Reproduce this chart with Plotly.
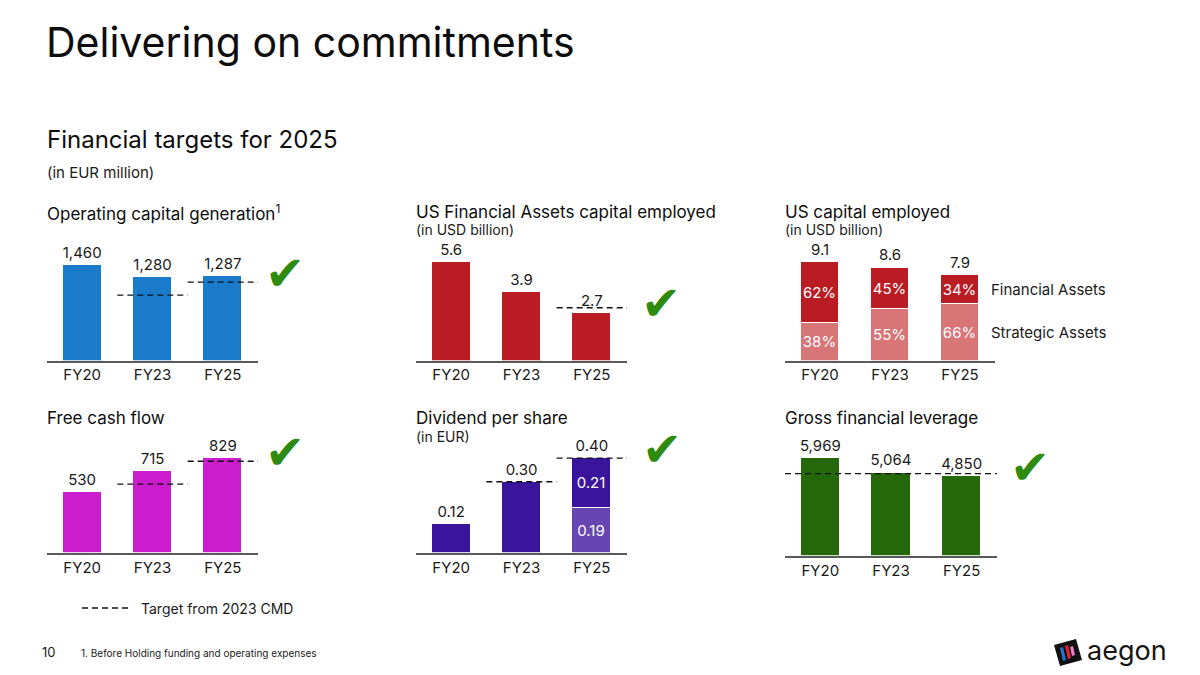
import plotly.graph_objects as go

W, H = 1200, 675
FONT = "Inter"
INK = "#1a1a1a"

# ---------- data ----------
years = ["FY20", "FY23", "FY25"]

ocg = [1460, 1280, 1287]              # operating capital generation, EUR m
ocg_target = [None, 1000, 1200]

fa_capital = [5.6, 3.9, 2.7]          # US Financial Assets capital employed, USD bn
fa_target = [None, None, 3.0]

us_capital = [9.1, 8.6, 7.9]          # US capital employed, USD bn
fa_share = [62, 45, 34]               # % Financial Assets
sa_share = [38, 55, 66]               # % Strategic Assets

fcf = [530, 715, 829]                 # free cash flow, EUR m
fcf_target = [None, 600, 800]

dps = [0.12, 0.30, 0.40]              # dividend per share, EUR
dps_interim = [0.19]                  # FY25 split
dps_final = [0.21]
dps_target = [None, 0.30, 0.40]

gfl = [5969, 5064, 4850]              # gross financial leverage, EUR m
gfl_target = 5000

# ---------- colours ----------
BLUE = "#1b7bcb"
RED = "#b91c23"
PINK_RED = "#d77577"
MAGENTA = "#cb1dcd"
PURPLE = "#3a149b"
PURPLE_LT = "#6746b1"
GREEN = "#256809"
CHECK = "#2f8a10"


def px_x(p):
    return p / W


def px_y(p):
    return 1 - p / H


# panel boxes in pixels: (left, right, top, baseline), y max
panels = [
    (47, 258, 245, 360.5, 1768),
    (416, 627, 245, 360.5, 6.57),
    (785, 995, 245, 360.5, 10.69),
    (47, 258, 440, 552.7, 986),
    (416, 627, 440, 552.7, 0.4765),
    (785, 997, 440, 555.7, 7055),
]

fig = go.Figure()
layout_axes = {}
for i, (l, r, t, b, ymax) in enumerate(panels, start=1):
    sfx = "" if i == 1 else str(i)
    layout_axes["xaxis" + sfx] = dict(
        domain=[px_x(l), px_x(r)], range=[-0.5, 2.5], anchor="y" + sfx,
        tickvals=[0, 1, 2], ticktext=years, ticks="", showgrid=False,
        zeroline=False, showline=True, linecolor="#5a5a5a", linewidth=1.6,
        tickfont=dict(family=FONT, size=15, color=INK), fixedrange=True,
    )
    layout_axes["yaxis" + sfx] = dict(
        domain=[px_y(b), px_y(t)], range=[0, ymax], anchor="x" + sfx,
        visible=False, fixedrange=True,
    )

idx = [0, 1, 2]
BW = 0.555
lab_font = dict(family=FONT, size=15, color=INK)
in_font = dict(family=FONT, size=15, color="white")


def ax(i):
    return ("x", "y") if i == 1 else ("x%d" % i, "y%d" % i)


def bars(i, vals, color, text=None, xs=idx):
    xa, ya = ax(i)
    fig.add_trace(go.Bar(
        x=xs, y=vals, width=BW, marker=dict(color=color, line=dict(color="white", width=1)),
        text=text, textposition="inside" if text else "none",
        insidetextanchor="middle", textangle=0, constraintext="none",
        textfont=in_font, xaxis=xa, yaxis=ya, showlegend=False, hoverinfo="skip",
    ))


def totals(i, vals, fmt):
    xa, ya = ax(i)
    fig.add_trace(go.Scatter(
        x=idx, y=vals, mode="markers+text", text=[fmt.format(v) for v in vals],
        marker=dict(size=4, opacity=0), textposition="top center",
        textfont=lab_font, cliponaxis=False,
        xaxis=xa, yaxis=ya, showlegend=False, hoverinfo="skip",
    ))


def targets(i, vals, full=False):
    xa, ya = ax(i)
    if full:
        segs = [([-0.5, 2.5], vals)]
    else:
        segs = [([k - 0.5, k + 0.5], v) for k, v in enumerate(vals) if v is not None]
    for xs, v in segs:
        fig.add_trace(go.Scatter(
            x=xs, y=[v, v], mode="lines",
            line=dict(color="#111111", width=1.3, dash="6px,4px"),
            xaxis=xa, yaxis=ya, showlegend=False, hoverinfo="skip",
        ))


# 1 operating capital generation
bars(1, ocg, BLUE)
totals(1, ocg, "{:,}")
targets(1, ocg_target)

# 2 US financial assets capital employed
bars(2, fa_capital, RED)
totals(2, fa_capital, "{:.1f}")
targets(2, fa_target)

# 3 US capital employed, split
sa_vals = [c * s / 100 for c, s in zip(us_capital, sa_share)]
fa_vals = [c * s / 100 for c, s in zip(us_capital, fa_share)]
fig.update_layout(barmode="stack")
bars(3, sa_vals, PINK_RED, ["%d%%" % s for s in sa_share])
bars(3, fa_vals, RED, ["%d%%" % s for s in fa_share])
totals(3, us_capital, "{:.1f}")

# 4 free cash flow
bars(4, fcf, MAGENTA)
totals(4, fcf, "{:,}")
targets(4, fcf_target)

# 5 dividend per share
bars(5, dps[:2], PURPLE, xs=idx[:2])
bars(5, dps_interim, PURPLE_LT, ["%.2f" % v for v in dps_interim], xs=idx[2:])
bars(5, dps_final, PURPLE, ["%.2f" % v for v in dps_final], xs=idx[2:])
totals(5, dps, "{:.2f}")
targets(5, dps_target)

# 6 gross financial leverage
bars(6, gfl, GREEN)
totals(6, gfl, "{:,}")
targets(6, gfl_target, full=True)


# ---------- text ----------
def txt(x, y, s, size, color=INK, xanchor="left"):
    fig.add_annotation(x=px_x(x), y=px_y(y), xref="paper", yref="paper", text=s,
                       showarrow=False, xanchor=xanchor, yanchor="middle",
                       font=dict(family=FONT, size=size, color=color))


txt(44, 42, "Delivering on commitments", 41, "#0d0d0d")
txt(45, 140, "Financial targets for 2025", 24, "#0d0d0d")
txt(45, 172, "(in EUR million)", 15)

txt(45, 212, "Operating capital generation<sup>1</sup>", 17, "#0d0d0d")
txt(414, 212, "US Financial Assets capital employed", 17, "#0d0d0d")
txt(414, 229, "(in USD billion)", 14)
txt(783, 212, "US capital employed", 17, "#0d0d0d")
txt(783, 229, "(in USD billion)", 14)

txt(45, 418, "Free cash flow", 17, "#0d0d0d")
txt(414, 418, "Dividend per share", 17, "#0d0d0d")
txt(414, 436, "(in EUR)", 14)
txt(783, 418, "Gross financial leverage", 17, "#0d0d0d")

txt(989, 289, "Financial Assets", 15)
txt(989, 332, "Strategic Assets", 15)

for cx, cy in [(285, 273), (661, 302), (285, 451), (662, 448), (1030, 466)]:
    txt(cx, cy, "\u2714", 48, CHECK, xanchor="center")

# legend key
fig.add_shape(type="line", xref="paper", yref="paper",
              x0=px_x(82), x1=px_x(128), y0=px_y(608), y1=px_y(608),
              line=dict(color="#111111", width=1.3, dash="6px,4px"))
txt(139, 608, "Target from 2023 CMD", 14)

# footer
txt(40, 652, "10", 13)
txt(79, 653, "1. Before Holding funding and operating expenses", 10)


# logo
def poly(pts, color):
    path = "M " + " L ".join("%f,%f" % (px_x(a), px_y(b)) for a, b in pts) + " Z"
    fig.add_shape(type="path", xref="paper", yref="paper", path=path,
                  fillcolor=color, line=dict(width=0))


poly([(1054, 645), (1076, 639), (1082, 660), (1060, 666)], "#111111")
poly([(1060, 648), (1063, 647), (1066, 660), (1063, 661)], "#2a6fd6")
poly([(1065, 646), (1068, 645), (1071, 658), (1068, 659)], "#e0203a")
poly([(1070, 647), (1073, 646), (1075, 655), (1072, 656)], "#f07ac8")
txt(1085, 650, "aegon", 27, "#151515")

fig.update_layout(
    width=W, height=H, margin=dict(l=0, r=0, t=0, b=0),
    paper_bgcolor="white", plot_bgcolor="rgba(0,0,0,0)",
    bargap=0, showlegend=False, **layout_axes,
)

fig.write_html("out.html", config={"displayModeBar": False},
               post_script="document.body.style.margin='0';")
